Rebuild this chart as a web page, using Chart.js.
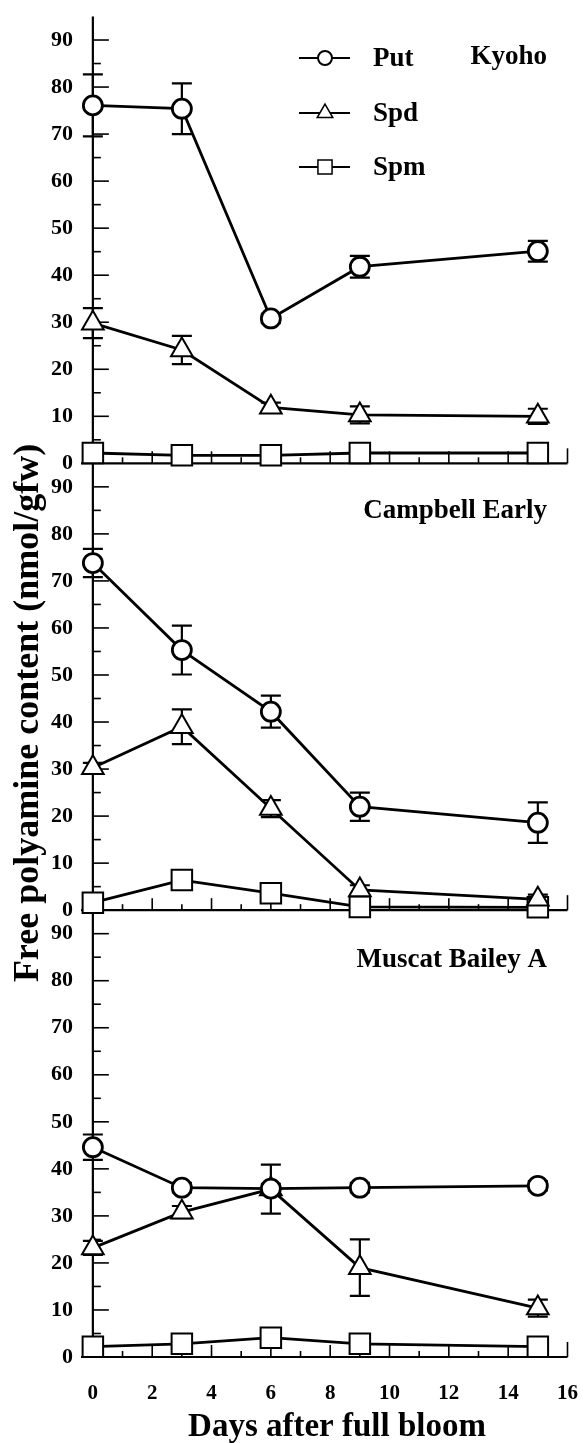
<!DOCTYPE html>
<html>
<head>
<meta charset="utf-8">
<script src="https://cdn.jsdelivr.net/npm/chart.js@4.4.1/dist/chart.umd.min.js"></script>
<style>
  html, body { margin: 0; padding: 0; background: #fff; }
  #wrap { position: relative; width: 584px; height: 1443px; }
</style>
</head>
<body>
<div id="wrap"><canvas id="chart" width="584" height="1443"></canvas></div>
<script>
// days after full bloom
const days = [0, 3, 6, 9, 15];
const xTicks = [0, 2, 4, 6, 8, 10, 12, 14, 16];
const yTicks = [0, 10, 20, 30, 40, 50, 60, 70, 80, 90];
const panelNames = ['Kyoho', 'Campbell Early', 'Muscat Bailey A'];
const seriesNames = ['Put', 'Spd', 'Spm'];

// Kyoho
const kyohoPut = [76.1, 75.4, 30.8, 41.8, 45.1];
const kyohoPutErr = [6.6, 5.4, 1.0, 2.3, 2.2];
const kyohoSpd = [29.8, 24.1, 11.9, 10.3, 10.0];
const kyohoSpdErr = [3.2, 3.0, 1.0, 1.8, 1.6];
const kyohoSpm = [2.2, 1.7, 1.7, 2.2, 2.2];
const kyohoSpmErr = [0.5, 0.5, 0.5, 0.5, 0.5];

// Campbell Early
const campbellPut = [73.8, 55.3, 42.2, 22.0, 18.6];
const campbellPutErr = [3.0, 5.2, 3.4, 3.0, 4.3];
const campbellSpd = [30.3, 39.0, 21.6, 4.3, 2.3];
const campbellSpdErr = [1.0, 3.7, 1.8, 1.0, 1.0];
const campbellSpm = [1.6, 6.4, 3.6, 0.7, 0.6];
const campbellSpmErr = [0.5, 1.0, 1.0, 0.5, 0.5];

// Muscat Bailey A
const muscatPut = [44.6, 36.0, 35.8, 36.0, 36.4];
const muscatPutErr = [2.7, 1.0, 1.0, 1.0, 1.0];
const muscatSpd = [23.2, 30.8, 35.7, 19.0, 10.4];
const muscatSpdErr = [1.5, 1.3, 5.2, 6.0, 1.8];
const muscatSpm = [2.2, 2.8, 4.1, 2.8, 2.2];
const muscatSpmErr = [0.5, 0.5, 1.5, 0.5, 0.5];

const FONT = "'Liberation Serif', 'Times New Roman', serif";
const panelAxes = ['yKyoho', 'yCampbell', 'yMuscat'];
const panelData = [
  [[kyohoPut, kyohoPutErr], [kyohoSpd, kyohoSpdErr], [kyohoSpm, kyohoSpmErr]],
  [[campbellPut, campbellPutErr], [campbellSpd, campbellSpdErr], [campbellSpm, campbellSpmErr]],
  [[muscatPut, muscatPutErr], [muscatSpd, muscatSpdErr], [muscatSpm, muscatSpmErr]]
];

// marker look per series
const markers = [
  { pointStyle: 'circle', radius: 9.5, borderWidth: 2.8 },
  { pointStyle: 'triangle', radius: 12.5, borderWidth: 2 },
  { pointStyle: 'rect', radius: 14.5, borderWidth: 2 }
];

const datasets = [];
panelData.forEach((series, p) => {
  series.forEach(([vals, errs], s) => {
    datasets.push({
      label: seriesNames[s],
      panel: p,
      err: errs,
      yAxisID: panelAxes[p],
      data: days.map((d, i) => ({ x: d, y: vals[i] })),
      borderColor: '#000',
      borderWidth: 2.8,
      backgroundColor: '#fff',
      pointStyle: markers[s].pointStyle,
      pointRadius: markers[s].radius,
      pointBorderWidth: markers[s].borderWidth,
      pointBackgroundColor: '#fff',
      pointBorderColor: '#000',
      tension: 0,
      clip: false
    });
  });
});

function yScale() {
  return {
    type: 'linear',
    position: 'left',
    stack: 'panels',
    stackWeight: 1,
    min: 0,
    max: 95,
    grid: { display: false, drawTicks: false },
    border: { display: false },
    ticks: { color: '#000', padding: 8, autoSkip: false, font: { family: FONT, size: 22, weight: 'bold' } },
    afterBuildTicks: s => { s.ticks = yTicks.map(v => ({ value: v })); },
    afterFit: s => { s.width = 81; s.paddingTop = 0; s.paddingBottom = 0; }
  };
}

// axes, ticks, error bars, legend and labels
const frame = {
  id: 'frame',
  beforeDatasetsDraw(chart) {
    const ctx = chart.ctx;
    const x = chart.scales.x;
    const x0 = x.getPixelForValue(0);
    const x16 = x.getPixelForValue(16);
    ctx.save();
    ctx.strokeStyle = '#000';
    ctx.lineCap = 'butt';
    // y axis, continuous through the three panels
    ctx.lineWidth = 2.2;
    ctx.beginPath();
    ctx.moveTo(x0, chart.scales[panelAxes[0]].top);
    ctx.lineTo(x0, chart.scales[panelAxes[2]].getPixelForValue(0));
    ctx.stroke();
    panelAxes.forEach(id => {
      const y = chart.scales[id];
      const yb = y.getPixelForValue(0);
      ctx.lineWidth = 2.2;
      ctx.beginPath();
      ctx.moveTo(chart.chartArea.left, yb);
      ctx.lineTo(x16, yb);
      ctx.stroke();
      // x ticks pointing up
      ctx.lineWidth = 1.6;
      for (let d = 1; d <= 16; d++) {
        const len = d === 16 ? 15 : (d % 2 === 0 ? 12 : 6);
        const px = x.getPixelForValue(d);
        ctx.beginPath();
        ctx.moveTo(px, yb);
        ctx.lineTo(px, yb - len);
        ctx.stroke();
      }
      // y ticks pointing right
      for (let v = 5; v <= 90; v += 5) {
        const len = v % 10 === 0 ? 16 : 8;
        const py = y.getPixelForValue(v);
        ctx.beginPath();
        ctx.moveTo(x0, py);
        ctx.lineTo(x0 + len, py);
        ctx.stroke();
      }
    });
    // error bars
    ctx.lineWidth = 2.2;
    chart.data.datasets.forEach((ds, i) => {
      const meta = chart.getDatasetMeta(i);
      const y = chart.scales[ds.yAxisID];
      ds.data.forEach((pt, j) => {
        const e = ds.err[j];
        const px = meta.data[j].x;
        const top = y.getPixelForValue(pt.y + e);
        const bot = y.getPixelForValue(Math.max(0, pt.y - e));
        ctx.beginPath();
        ctx.moveTo(px, top);
        ctx.lineTo(px, bot);
        ctx.moveTo(px - 10, top);
        ctx.lineTo(px + 10, top);
        ctx.moveTo(px - 10, bot);
        ctx.lineTo(px + 10, bot);
        ctx.stroke();
      });
    });
    ctx.restore();
  },
  afterDraw(chart) {
    const ctx = chart.ctx;
    ctx.save();
    ctx.fillStyle = '#000';
    // legend
    const legendY = [58, 113, 167];
    const legendMarks = [
      { pointStyle: 'circle', radius: 7, borderWidth: 2 },
      { pointStyle: 'triangle', radius: 9, borderWidth: 1.5 },
      { pointStyle: 'rect', radius: 10, borderWidth: 1.5 }
    ];
    seriesNames.forEach((name, s) => {
      const ly = legendY[s];
      ctx.strokeStyle = '#000';
      ctx.lineWidth = 2.2;
      ctx.beginPath();
      ctx.moveTo(299, ly);
      ctx.lineTo(350, ly);
      ctx.stroke();
      ctx.fillStyle = '#fff';
      ctx.lineWidth = legendMarks[s].borderWidth;
      Chart.helpers.drawPoint(ctx, legendMarks[s], 325, ly);
      ctx.fillStyle = '#000';
      ctx.font = 'bold 27px ' + FONT;
      ctx.textAlign = 'left';
      ctx.textBaseline = 'middle';
      ctx.fillText(name, 373, ly + 1);
    });
    // panel names
    const titleY = [57, 511, 960];
    ctx.font = 'bold 27px ' + FONT;
    ctx.textAlign = 'right';
    ctx.textBaseline = 'middle';
    panelNames.forEach((n, p) => ctx.fillText(n, 547, titleY[p]));
    // axis titles
    ctx.font = 'bold 33px ' + FONT;
    ctx.textAlign = 'center';
    ctx.textBaseline = 'alphabetic';
    ctx.fillText('Days after full bloom', 337, 1436);
    ctx.save();
    ctx.translate(29, 713);
    ctx.rotate(-Math.PI / 2);
    ctx.font = 'bold 36px ' + FONT;
    ctx.textBaseline = 'middle';
    ctx.fillText('Free polyamine content (nmol/gfw)', 0, 0);
    ctx.restore();
    ctx.restore();
  }
};

new Chart(document.getElementById('chart'), {
  type: 'line',
  data: { datasets },
  options: {
    responsive: false,
    animation: false,
    devicePixelRatio: 1,
    layout: { padding: { top: 13, right: 16, bottom: 0, left: 0 } },
    plugins: { legend: { display: false }, tooltip: { enabled: false } },
    scales: {
      x: {
        type: 'linear',
        position: 'bottom',
        min: -0.4,
        max: 16,
        grid: { display: false, drawTicks: false },
        border: { display: false },
        ticks: { color: '#000', padding: 24, maxRotation: 0, autoSkip: false, font: { family: FONT, size: 21, weight: 'bold' } },
        afterBuildTicks: s => { s.ticks = xTicks.map(v => ({ value: v })); },
        afterFit: s => { s.height = 86; s.paddingLeft = 0; s.paddingRight = 0; }
      },
      // stacked left axes are placed bottom-up, so the lowest panel comes first
      yMuscat: yScale(),
      yCampbell: yScale(),
      yKyoho: yScale()
    }
  },
  plugins: [frame]
});
</script>
</body>
</html>
